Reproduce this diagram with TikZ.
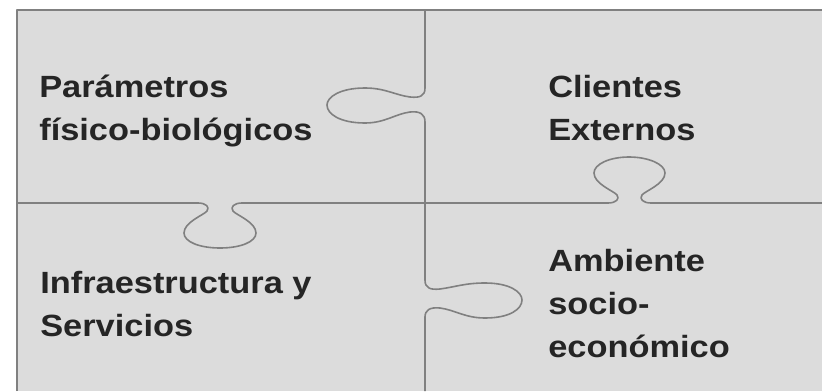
\documentclass[tikz,border=0pt]{standalone}
\usepackage{fontspec}
\newfontfamily\piecefont{Liberation Sans}[FakeStretch=1.12]
\usepackage{tikz}
\usetikzlibrary{positioning}

\definecolor{piecefill}{HTML}{DCDCDC}
\definecolor{pieceline}{HTML}{808080}
\definecolor{piecetextcol}{HTML}{252525}

\begin{document}
\begin{tikzpicture}[x=1pt,y=-1pt,semithick]
		\tikzstyle{cut}=[draw=pieceline,line width=1.6pt,line join=round]
		\tikzstyle{piecetext}=[anchor=base west,inner sep=0pt,align=left,text=piecetextcol,
			font=\piecefont\bfseries\fontsize{30.7}{43}\selectfont]

		\useasboundingbox (0,0) rectangle (822,391);
		\fill[piecefill] (17,10) rectangle (822,391);

		% frame
		\coordinate (TL) at (17,10);
		\coordinate (TR) at (822,10);
		\coordinate (BL) at (17,391);
		\draw[cut] (BL) -- (TL) -- (TR);

		% vertical cut with two tabs
		\draw[cut] (425,10) -- (425,88)
			.. controls (425,96) and (420,98) .. (410,97)
			.. controls (395,95) and (385,88) .. (365,88)
			.. controls (340,88) and (327,97) .. (327,105)
			.. controls (327,114) and (340,123) .. (365,123)
			.. controls (385,123) and (395,114) .. (410,112)
			.. controls (420,111) and (425,114) .. (425,122)
			-- (425,280)
			.. controls (425,288) and (430,290) .. (440,289)
			.. controls (455,287) and (465,283) .. (485,283)
			.. controls (510,283) and (522,292) .. (522,300)
			.. controls (522,309) and (510,318) .. (485,318)
			.. controls (465,318) and (455,310) .. (440,308)
			.. controls (430,307) and (425,310) .. (425,317)
			-- (425,391);

		% horizontal cut with two tabs
		\draw[cut] (17,203) -- (198,203)
			.. controls (206,203) and (210,207) .. (207,211)
			.. controls (204,215) and (184,222) .. (184,233)
			.. controls (184,242) and (200,248) .. (220,248)
			.. controls (240,248) and (256,242) .. (256,233)
			.. controls (256,222) and (236,215) .. (233,211)
			.. controls (230,207) and (234,203) .. (242,203)
			-- (608,203)
			.. controls (616,203) and (620,199) .. (617,195)
			.. controls (614,191) and (594,184) .. (594,173)
			.. controls (594,164) and (610,157) .. (629,157)
			.. controls (648,157) and (665,164) .. (665,173)
			.. controls (665,184) and (645,191) .. (642,195)
			.. controls (639,199) and (643,203) .. (651,203)
			-- (822,203);

		% base anchor sits on the last line
		\node[piecetext] (param) at (39,140) {Parámetros\\físico-biológicos};
		\node[piecetext] (client) at (548,140) {Clientes\\Externos};
		\node[piecetext] (infra) at (40,336) {Infraestructura y\\Servicios};
		\node[piecetext] (ambient) at (548,357) {Ambiente\\socio-\\económico};
	\end{tikzpicture}
\end{document}
